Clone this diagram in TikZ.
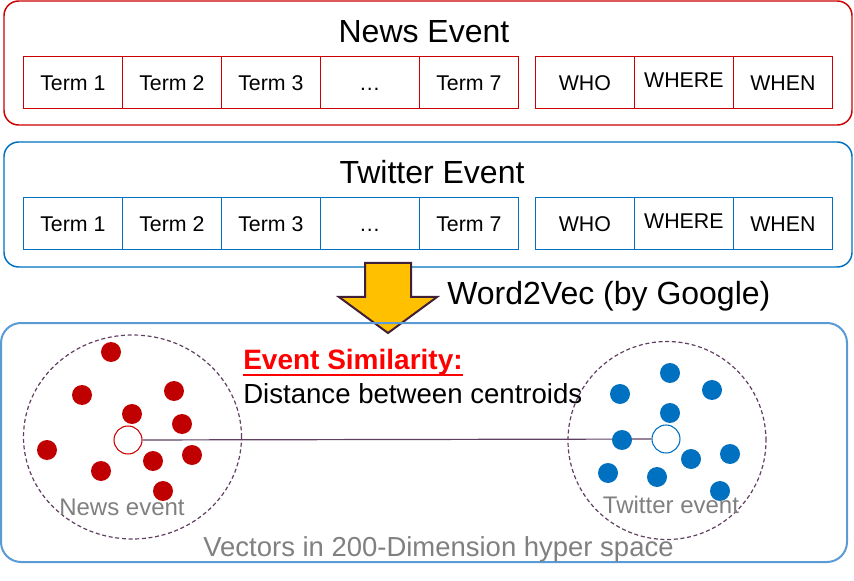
\documentclass[tikz,border=0pt]{standalone}
\usepackage{fontspec}
\setmainfont{Liberation Sans}
\usetikzlibrary{matrix}
\definecolor{newsred}{RGB}{204,0,0}
\definecolor{dotred}{RGB}{192,0,0}
\definecolor{twblue}{RGB}{0,112,192}
\definecolor{spaceblue}{RGB}{91,155,213}
\definecolor{arrowgold}{RGB}{255,192,0}
\definecolor{arrowline}{RGB}{64,32,56}
\definecolor{linkline}{RGB}{96,64,96}
\definecolor{labelgray}{RGB}{128,128,128}
\definecolor{simred}{RGB}{255,0,0}
\tikzset{
      cell/.style = { draw, line width=0.9pt, inner sep=0pt, outer sep=0pt,
                      minimum width=74.25pt, minimum height=39pt,
                      text height=11.5pt, text depth=0pt, font=\fontsize{16}{19}\selectfont },
   termrow/.style = { matrix of nodes, column sep=-0.9pt, inner sep=0pt, anchor=north west,
                      nodes={cell, draw=#1} },
  eventbox/.style = { line width=1.1pt, rounded corners=11pt },
     title/.style = { font=\fontsize{24}{28}\selectfont, inner sep=0pt, anchor=base },
    reddot/.style = { circle, fill=dotred, minimum size=15pt, inner sep=0pt },
   bluedot/.style = { circle, fill=twblue, minimum size=15pt, inner sep=0pt },
  centroid/.style = { circle, draw=#1, fill=white, line width=0.8pt, minimum size=21pt, inner sep=0pt },
   cluster/.style = { color=linkline, line width=0.9pt, dash pattern=on 3pt off 2pt },
     clink/.style = { color=linkline, line width=0.9pt },
grouplabel/.style = { font=\fontsize{18}{21}\selectfont, color=labelgray, inner sep=0pt, anchor=base },
  bigarrow/.style = { fill=arrowgold, draw=arrowline, line width=1.5pt, line join=miter }
}
\begin{document}
\begin{tikzpicture}[x=0.75pt, y=-0.75pt]
  \useasboundingbox (0,0) rectangle (854,581);

  \draw [eventbox, newsred] (4,1) rectangle (852,125);
  \node [title] (newstitle) at (424,43) {News Event};
  \matrix (news) [termrow=newsred] at (22.5,55.5)
    {
      Term 1 & Term 2 & Term 3 & … & Term 7 &[12.75pt] WHO & \raisebox{2.25pt}{WHERE} & WHEN \\
    };

  \draw [eventbox, twblue] (4,142) rectangle (852,267);
  \node [title] (twtitle) at (432,184) {Twitter Event};
  \matrix (tw) [termrow=twblue] at (22.5,196.5)
    {
      Term 1 & Term 2 & Term 3 & … & Term 7 &[12.75pt] WHO & \raisebox{2.25pt}{WHERE} & WHEN \\
    };

  \draw [bigarrow] (365,263) -- (411,263) -- (411,297) -- (437,297) -- (388,333)
                   -- (339,297) -- (365,297) -- cycle;
  \node [title, anchor=base west] (w2v) at (447,305) {Word2Vec (by Google)};

  \draw [eventbox, spaceblue, line width=1.5pt, rounded corners=15pt] (1,323) rectangle (847,562);

  \draw [cluster] (132.5,437) ellipse [x radius=81.75pt, y radius=76.5pt];
  \draw [cluster] (667,440.5) circle [radius=74.25pt];

  \node [centroid=newsred] (nc) at (128,440) {};
  \node [centroid=twblue] (tc) at (666,439) {};
  \draw [clink] (nc) -- (tc);

  \node [reddot] (n1) at (111,352) {};
  \node [reddot] (n2) at (82,395) {};
  \node [reddot] (n3) at (174,391) {};
  \node [reddot] (n4) at (132,414) {};
  \node [reddot] (n5) at (182,424) {};
  \node [reddot] (n6) at (47,450) {};
  \node [reddot] (n7) at (192,455) {};
  \node [reddot] (n8) at (153,461) {};
  \node [reddot] (n9) at (101,471) {};
  \node [reddot] (n10) at (163,491) {};

  \node [bluedot] (t1) at (670,373) {};
  \node [bluedot] (t2) at (620,394) {};
  \node [bluedot] (t3) at (712,390) {};
  \node [bluedot] (t4) at (670,413) {};
  \node [bluedot] (t5) at (622,440) {};
  \node [bluedot] (t6) at (691,459) {};
  \node [bluedot] (t7) at (730,454) {};
  \node [bluedot] (t8) at (608,473) {};
  \node [bluedot] (t9) at (657,477) {};
  \node [bluedot] (t10) at (720,491) {};

  \node [anchor=base west, inner sep=0pt, text=simred, font=\bfseries\fontsize{21}{25}\selectfont]
    (sim) at (243,369) {Event Similarity:};
  \draw [simred, line width=2pt] ([yshift=-4.5pt]sim.base west) -- ([yshift=-4.5pt]sim.base east);
  \node [anchor=base west, inner sep=0pt, font=\fontsize{20.7}{24}\selectfont]
    (dist) at (243,403) {Distance between centroids};

  \node [grouplabel] (newslabel) at (122,515) {News event};
  \node [grouplabel] (twlabel) at (671,513) {Twitter event};
  \node [grouplabel, font=\fontsize{20.6}{24}\selectfont] (space) at (438.5,556) {Vectors in 200-Dimension hyper space};

\end{tikzpicture}
\end{document}
